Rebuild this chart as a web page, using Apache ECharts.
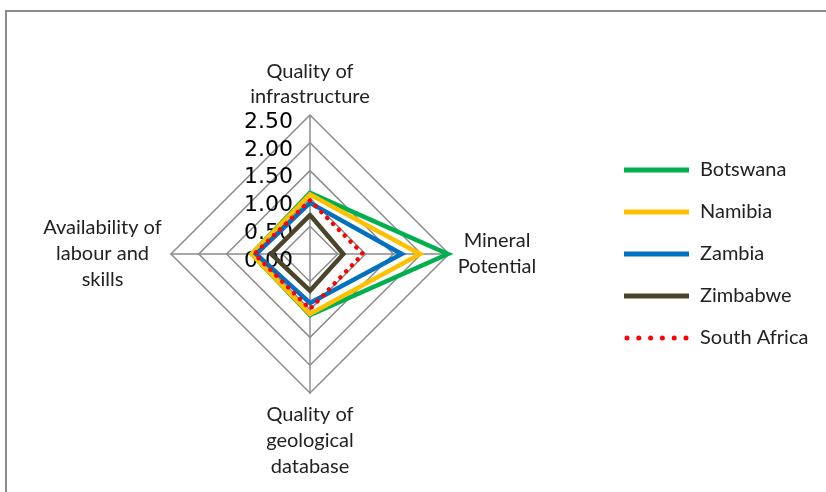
<!DOCTYPE html>
<html>
<head>
<meta charset="utf-8">
<script src="https://cdn.jsdelivr.net/npm/echarts@6/dist/echarts.min.js"></script>
<style>
  html, body { margin: 0; padding: 0; background: #fff; }
  #wrap { position: relative; width: 826px; height: 492px; overflow: hidden; }
  #frame { position: absolute; left: 5px; top: 10px; width: 900px; height: 600px;
           border-top: 2px solid #8a8a8a; border-left: 2px solid #8a8a8a; }
  #chart { position: absolute; left: 0; top: 0; width: 826px; height: 492px; }
</style>
</head>
<body>
<div id="wrap">
  <div id="frame"></div>
  <div id="chart"></div>
</div>
<script>
// Radar axes, listed counter-clockwise starting from the top
const indicators = [
  'Quality of\ninfrastructure',
  'Availability of\nlabour and\nskills',
  'Quality of\ngeological\ndatabase',
  'Mineral\nPotential'
];
const axisMax = 2.5;

// Scores per country, same order as indicators
const botswana    = [1.10, 1.05, 1.10, 2.48];
const namibia     = [1.07, 1.05, 1.08, 1.98];
const zambia      = [0.92, 0.97, 0.88, 1.65];
const zimbabwe    = [0.70, 0.70, 0.66, 0.60];
const southAfrica = [0.96, 1.00, 0.99, 0.95];

const countries = ['Botswana', 'Namibia', 'Zambia', 'Zimbabwe', 'South Africa'];
const values = [botswana, namibia, zambia, zimbabwe, southAfrica];
const colors = ['#00B050', '#FFC000', '#0070C0', '#4A452A', '#FF0000'];

const font = 'Lato';
const textSize = 20;
const textColor = '#222';
const chart = echarts.init(document.getElementById('chart'), null, { renderer: 'canvas' });

// Legend marker for the dotted series: a row of six round dots
const dotsIcon = 'path://' + [0, 1, 2, 3, 4, 5].map(function (i) {
  const cx = 3 + i * 11.8;
  return 'M' + (cx - 2.5) + ',2.5a2.5,2.5 0 1,0 5,0a2.5,2.5 0 1,0 -5,0';
}).join('') + 'M0,0M65,5';

// Each axis name is a block of lines centred on one another
function nameStyle(width, lh) {
  return { width: width, align: 'center', fontFamily: font, fontSize: textSize, lineHeight: lh, color: textColor };
}
const nameBlocks = {
  'Quality of\ninfrastructure': ['top1', 'top2'],
  'Mineral\nPotential': ['r', 'r'],
  'Availability of\nlabour and\nskills': ['l', 'l', 'l'],
  'Quality of\ngeological\ndatabase': ['b', 'b', 'b']
};

chart.setOption({
  animation: false,
  color: colors,
  legend: {
    orient: 'vertical',
    left: 624,
    top: 160,
    padding: 0,
    itemWidth: 65,
    itemHeight: 5,
    itemGap: 22,
    textStyle: { fontFamily: font, fontSize: textSize, lineHeight: 20, color: textColor, padding: [0, 0, 0, 6] },
    data: countries.map(function (c, i) {
      return i === 4 ? { name: c, icon: dotsIcon } : { name: c, icon: 'rect' };
    })
  },
  radar: {
    center: [310, 254],
    radius: 139,
    startAngle: 90,
    shape: 'polygon',
    splitNumber: 5,
    nameGap: 9,
    axisName: {
      color: textColor,
      fontFamily: font,
      fontSize: textSize,
      lineHeight: 26,
      formatter: function (name) {
        const keys = nameBlocks[name];
        return name.split('\n').map(function (l, k) { return '{' + keys[k] + '|' + l + '}'; }).join('\n');
      },
      rich: {
        top1: nameStyle(130, 30),
        top2: nameStyle(130, 19),
        r: nameStyle(78, 26),
        l: nameStyle(119, 26),
        b: nameStyle(130, 26)
      }
    },
    splitLine: { lineStyle: { color: '#8c8c8c', width: 1.5 } },
    axisLine: { lineStyle: { color: '#8c8c8c', width: 1.5 } },
    splitArea: { show: false },
    axisTick: { show: false },
    indicator: indicators.map(function (n, i) {
      return {
        name: n,
        min: 0,
        max: axisMax,
        axisLabel: {
          show: i === 0,
          fontFamily: 'DejaVu Sans',
          fontSize: 22,
          color: '#000',
          margin: 17,
          verticalAlign: 'top',
          lineHeight: 14,
          formatter: function (v) { return Number(v).toFixed(2); }
        }
      };
    })
  },
  series: [{
    type: 'radar',
    symbol: 'none',
    data: countries.map(function (c, i) {
      return {
        name: c,
        value: values[i],
        lineStyle: i === 4
          ? { color: colors[i], width: 4.5, type: [0.1, 8.2], cap: 'round' }
          : { color: colors[i], width: 4.5, cap: 'round', join: 'miter' }
      };
    })
  }]
});
</script>
</body>
</html>
